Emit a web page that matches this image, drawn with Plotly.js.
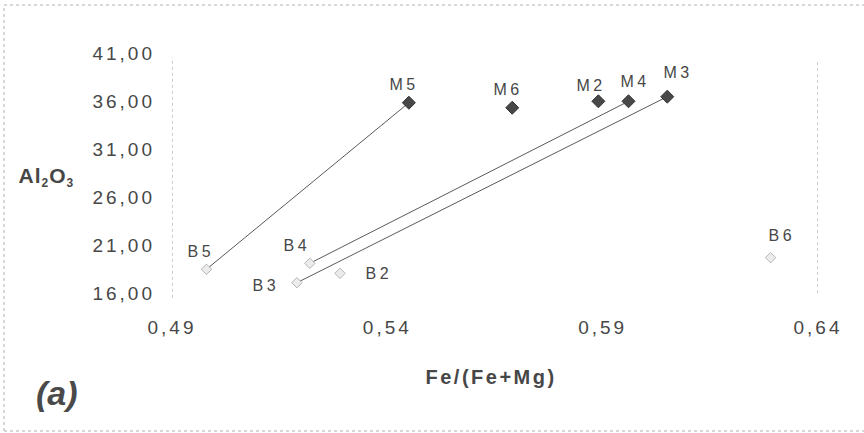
<!DOCTYPE html>
<html>
<head>
<meta charset="utf-8">
<script src="https://cdn.plot.ly/plotly-3.0.1.min.js"></script>
<style>
  html, body { margin: 0; padding: 0; background: #ffffff; }
  #chart { width: 864px; height: 433px; }
  .xtick text, .ytick text { letter-spacing: 3px; }
</style>
</head>
<body>
<div id="chart"></div>
<script>
// ---- data ----
const mLabels = ['M2', 'M3', 'M4', 'M5', 'M6'];
const mFe     = [0.589, 0.605, 0.596, 0.545, 0.569];
const mAl     = [35.97, 36.45, 35.97, 35.82, 35.30];

const bLabels = ['B2', 'B3', 'B4', 'B5', 'B6'];
const bFe     = [0.529, 0.519, 0.522, 0.498, 0.629];
const bAl     = [18.05, 17.07, 19.09, 18.47, 19.68];

const links = [['B5', 'M5'], ['B4', 'M4'], ['B3', 'M3']];

const xTicks = [0.49, 0.54, 0.59, 0.64];
const yTicks = [16, 21, 26, 31, 36, 41];

const xTitle = 'Fe/(Fe+Mg)';
const yTitle = 'Al<sub><span style="font-size:12px">2</span></sub>O<sub><span style="font-size:12px">3</span></sub>';
const panelTag = '(a)';

// ---- styling ----
const labelShift = { // screen px: [right, down]
  M2: [-7, -16], M3: [11, -24], M4: [6, -20], M5: [-5, -18], M6: [-4, -18],
  B2: [39, 0], B3: [-31, 3], B4: [-13, -18], B5: [-5, -18], B6: [11, -22]
};
const FONT = 'Liberation Sans, Arial, sans-serif';
const TXT = '#474747';

const pts = {};
mLabels.forEach((l, i) => pts[l] = [mFe[i], mAl[i]]);
bLabels.forEach((l, i) => pts[l] = [bFe[i], bAl[i]]);

const traces = [];
links.forEach(([a, b]) => {
  traces.push({
    type: 'scatter', mode: 'lines',
    x: [pts[a][0], pts[b][0]], y: [pts[a][1], pts[b][1]],
    line: { color: '#5a5a5a', width: 1 }, hoverinfo: 'skip'
  });
});
traces.push({
  type: 'scatter', mode: 'markers', name: 'B',
  x: bFe, y: bAl, text: bLabels,
  marker: { symbol: 'diamond', size: 8, color: '#ececec', line: { color: '#b5b5b5', width: 1 } }
});
traces.push({
  type: 'scatter', mode: 'markers', name: 'M',
  x: mFe, y: mAl, text: mLabels,
  marker: { symbol: 'diamond', size: 10, color: '#484848', line: { color: '#333333', width: 1 } }
});

const annotations = [];
const spacing = [];
[[mLabels, mFe, mAl], [bLabels, bFe, bAl]].forEach(([L, X, Y]) => {
  L.forEach((l, i) => {
    const s = labelShift[l];
    annotations.push({
      x: X[i], y: Y[i], xref: 'x', yref: 'y', text: l, showarrow: false,
      xanchor: 'center', yanchor: 'middle', xshift: s[0], yshift: -s[1],
      font: { family: FONT, size: 16, color: TXT }
    });
    spacing.push('3.5px');
  });
});
annotations.push({
  x: 0.494, y: -0.35, xref: 'paper', yref: 'paper', text: '<b>' + xTitle + '</b>',
  showarrow: false, xanchor: 'center', yanchor: 'middle',
  font: { family: FONT, size: 20, color: TXT }
});
spacing.push('2.5px');
annotations.push({
  x: -0.195, y: 0.483, xref: 'paper', yref: 'paper', text: '<b>' + yTitle + '</b>',
  showarrow: false, xanchor: 'center', yanchor: 'middle',
  font: { family: FONT, size: 21, color: TXT }
});
spacing.push('1px');
annotations.push({
  x: -0.178, y: -0.417, xref: 'paper', yref: 'paper', text: '<b><i>' + panelTag + '</i></b>',
  showarrow: false, xanchor: 'center', yanchor: 'middle',
  font: { family: FONT, size: 34, color: '#4a4a4a' }
});
spacing.push('0px');

const dotLine = { color: '#9a9a9a', width: 1, dash: 'dot' };
const frame = { color: '#b0b0b0', width: 1, dash: 'dot' };
const shapes = [
  { type: 'line', xref: 'x', yref: 'paper', x0: xTicks[0], x1: xTicks[0], y0: -0.02, y1: 0.983, line: dotLine },
  { type: 'line', xref: 'x', yref: 'paper', x0: xTicks[xTicks.length - 1], x1: xTicks[xTicks.length - 1], y0: 0, y1: 0.97, line: dotLine },
  // outer frame (top, left, bottom)
  { type: 'line', xref: 'paper', yref: 'paper', x0: -0.26, x1: 1.1, y0: 1.2, y1: 1.2, line: frame },
  { type: 'line', xref: 'paper', yref: 'paper', x0: -0.26, x1: -0.26, y0: -0.575, y1: 1.2, line: frame },
  { type: 'line', xref: 'paper', yref: 'paper', x0: -0.26, x1: 1.1, y0: -0.575, y1: -0.575, line: frame }
];

const layout = {
  width: 864, height: 433,
  margin: { l: 172, r: 46, t: 53, b: 140 },
  paper_bgcolor: '#ffffff', plot_bgcolor: '#ffffff',
  showlegend: false,
  separators: ',.',
  font: { family: FONT, color: TXT },
  xaxis: {
    range: [xTicks[0], xTicks[xTicks.length - 1]], tickmode: 'array', tickvals: xTicks,
    tickformat: '.2f', showgrid: false, zeroline: false, showline: false, ticks: '',
    ticklabelstandoff: 21, tickfont: { family: FONT, size: 19, color: TXT }
  },
  yaxis: {
    range: [yTicks[0], yTicks[yTicks.length - 1]], tickmode: 'array', tickvals: yTicks,
    tickformat: '.2f', showgrid: false, zeroline: false, showline: false, ticks: '',
    ticklabelstandoff: 16, tickfont: { family: FONT, size: 19, color: TXT }
  },
  annotations: annotations,
  shapes: shapes
};

Plotly.newPlot('chart', traces, layout, { displayModeBar: false, staticPlot: true }).then(() => {
  const els = document.querySelectorAll('#chart .annotation');
  els.forEach((g) => {
    const idx = +g.getAttribute('data-index');
    const t = g.querySelector('text');
    if (t && spacing[idx] !== undefined) t.style.letterSpacing = spacing[idx];
  });
});
</script>
</body>
</html>
